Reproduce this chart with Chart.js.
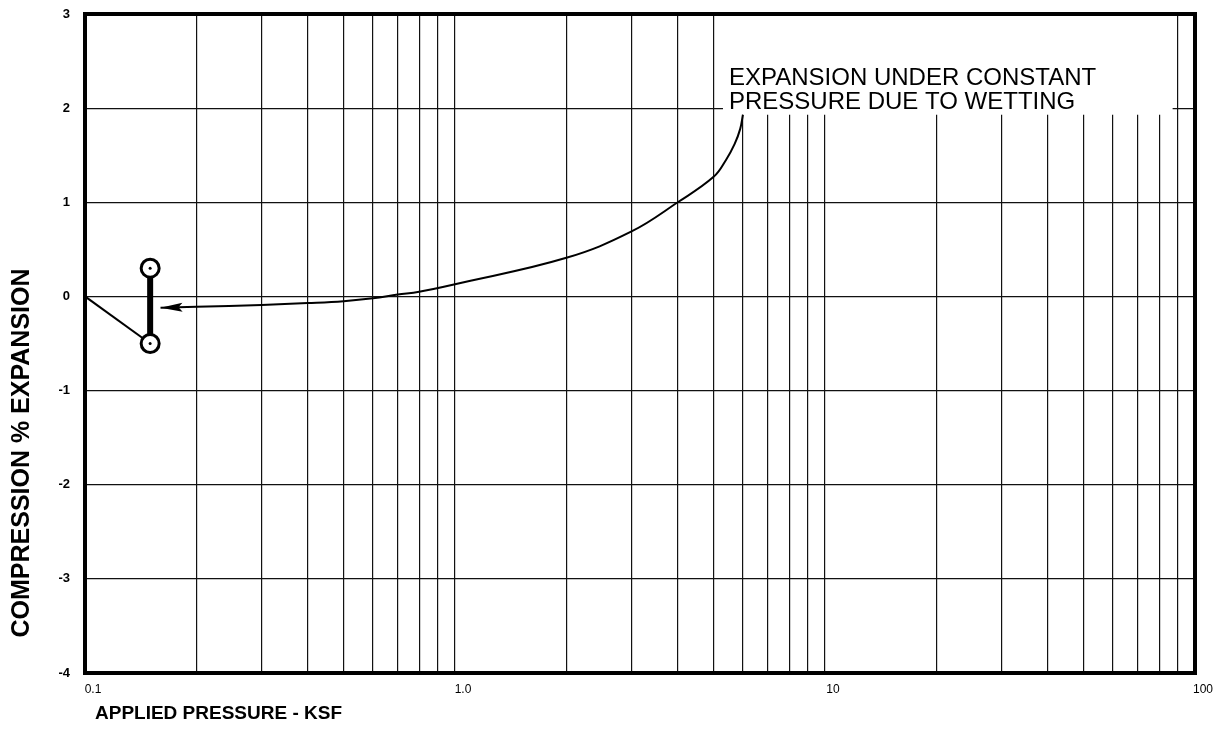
<!DOCTYPE html>
<html>
<head>
<meta charset="utf-8">
<script src="https://cdn.jsdelivr.net/npm/chart.js@4.4.1/dist/chart.umd.min.js"></script>
<style>
  html, body { margin: 0; padding: 0; background: #fff; }
  canvas { display: block; }
</style>
</head>
<body>
<canvas id="chart" width="1230" height="734"></canvas>
<script>
// --- data ---
const gridX = [0.1, 0.2, 0.3, 0.4, 0.5, 0.6, 0.7, 0.8, 0.9,
               1, 2, 3, 4, 5, 6, 7, 8, 9,
               10, 20, 30, 40, 50, 60, 70, 80, 90, 100];
const xTickText = { 0.1: '0.1', 1: '1.0', 10: '10', 100: '100' };
const yTicks = [-4, -3, -2, -1, 0, 1, 2, 3];

// seating load, then the two readings joined by the heavy bar
const loadX = [0.1, 0.15];
const loadY = [0, -0.5];
const ringX = [0.15, 0.15];
const ringY = [0.3, -0.5];

// leader curve from the note down to the wetting bar (arrow at the first point)
const wetX = [0.16, 0.2, 0.3, 0.4, 0.5, 0.6, 0.7, 0.8, 1.0, 2.0, 3.0, 4.0, 5.0, 5.4, 5.7, 5.9, 6.0];
const wetY = [-0.12, -0.11, -0.09, -0.07, -0.05, -0.02, 0.02, 0.05, 0.13, 0.41, 0.69, 1.0, 1.27, 1.45, 1.62, 1.78, 1.93];

const noteLines = ['EXPANSION UNDER CONSTANT', 'PRESSURE DUE TO WETTING'];
const xTitle = 'APPLIED PRESSURE - KSF';
const yTitle = 'COMPRESSION % EXPANSION';

const FONT = '"Liberation Sans", Arial, Helvetica, sans-serif';
Chart.defaults.font.family = FONT;
Chart.defaults.color = '#000';

const pts = (xs, ys) => xs.map((x, i) => ({ x, y: ys[i] }));

// white patch behind the note (grid is blanked there)
const noteBox = { x0: 5.3, x1: 87, y0: 1.93, y1: 3 };

const notePlugin = {
    id: 'note',
    beforeDatasetsDraw(chart) {
        const { ctx, scales: { x, y } } = chart;
        const l = x.getPixelForValue(noteBox.x0), r = x.getPixelForValue(noteBox.x1);
        const t = y.getPixelForValue(noteBox.y1), b = y.getPixelForValue(noteBox.y0);
        ctx.save();
        ctx.fillStyle = '#fff';
        ctx.fillRect(l, t, r - l, b - t);
        ctx.fillStyle = '#000';
        ctx.font = '24px ' + FONT;
        ctx.textAlign = 'left';
        ctx.textBaseline = 'middle';
        ctx.fillText(noteLines[0], l + 6, b - 36);
        ctx.fillText(noteLines[1], l + 6, b - 12);
        ctx.restore();
    }
};

const framePlugin = {
    id: 'frame',
    afterDraw(chart) {
        const { ctx, chartArea: a } = chart;
        ctx.save();
        // arrow head on the leader
        const meta = chart.getDatasetMeta(0);
        const p0 = meta.data[0], p1 = meta.data[1];
        const ang = Math.atan2(p0.y - p1.y, p0.x - p1.x);
        ctx.translate(p0.x, p0.y);
        ctx.rotate(ang);
        ctx.beginPath();
        ctx.moveTo(0, 0);
        ctx.lineTo(-22, -4.5);
        ctx.lineTo(-18, 0);
        ctx.lineTo(-22, 4.5);
        ctx.closePath();
        ctx.fillStyle = '#000';
        ctx.fill();
        ctx.restore();

        ctx.save();
        ctx.strokeStyle = '#000';
        ctx.lineWidth = 4;
        ctx.strokeRect(a.left, a.top, a.right - a.left, a.bottom - a.top);

        ctx.fillStyle = '#000';
        ctx.font = 'bold 19px ' + FONT;
        ctx.textAlign = 'left';
        ctx.textBaseline = 'middle';
        ctx.fillText(xTitle, a.left + 10, a.bottom + 41);

        ctx.translate(22, 453);
        ctx.rotate(-Math.PI / 2);
        ctx.textAlign = 'center';
        ctx.font = 'bold 25px ' + FONT;
        ctx.fillText(yTitle, 0, 0);
        ctx.restore();
    }
};

new Chart(document.getElementById('chart'), {
    type: 'line',
    data: {
        datasets: [
            {   // leader curve
                data: pts(wetX, wetY),
                borderColor: '#000', borderWidth: 2,
                pointRadius: 0, tension: 0.4,
                order: 1
            },
            {   // seating line
                data: pts(loadX, loadY),
                borderColor: '#000', borderWidth: 2,
                pointRadius: 0, order: 3
            },
            {   // heavy bar with open circles
                data: pts(ringX, ringY),
                borderColor: '#000', borderWidth: 6,
                pointRadius: 9, pointBorderWidth: 3,
                pointBackgroundColor: '#fff', pointBorderColor: '#000',
                order: 2
            },
            {   // centre dots
                data: pts(ringX, ringY),
                showLine: false,
                pointRadius: 1.5, pointBorderWidth: 0,
                pointBackgroundColor: '#000',
                order: 0
            }
        ]
    },
    options: {
        responsive: false,
        animation: false,
        devicePixelRatio: 1,
        layout: { padding: { left: 0, top: 14, right: 35, bottom: 0 } },
        plugins: { legend: { display: false }, tooltip: { enabled: false } },
        scales: {
            x: {
                type: 'logarithmic',
                min: 0.1, max: 100,
                afterBuildTicks: s => { s.ticks = gridX.map(v => ({ value: v })); },
                afterFit: s => { s.height = 61; s.paddingLeft = 0; s.paddingRight = 0; },
                grid: { color: '#111', lineWidth: 1.2, drawTicks: false },
                border: { display: false },
                ticks: {
                    autoSkip: false, maxRotation: 0, padding: 9, labelOffset: 8,
                    font: { size: 12 },
                    callback: v => xTickText[v] || ''
                }
            },
            y: {
                min: -4, max: 3,
                afterBuildTicks: s => { s.ticks = yTicks.map(v => ({ value: v })); },
                afterFit: s => { s.width = 85; s.paddingTop = 0; s.paddingBottom = 0; },
                grid: { color: '#111', lineWidth: 1.2, drawTicks: false },
                border: { display: false },
                ticks: { padding: 15, font: { size: 13, weight: 'bold' } }
            }
        }
    },
    plugins: [notePlugin, framePlugin]
});
</script>
</body>
</html>
